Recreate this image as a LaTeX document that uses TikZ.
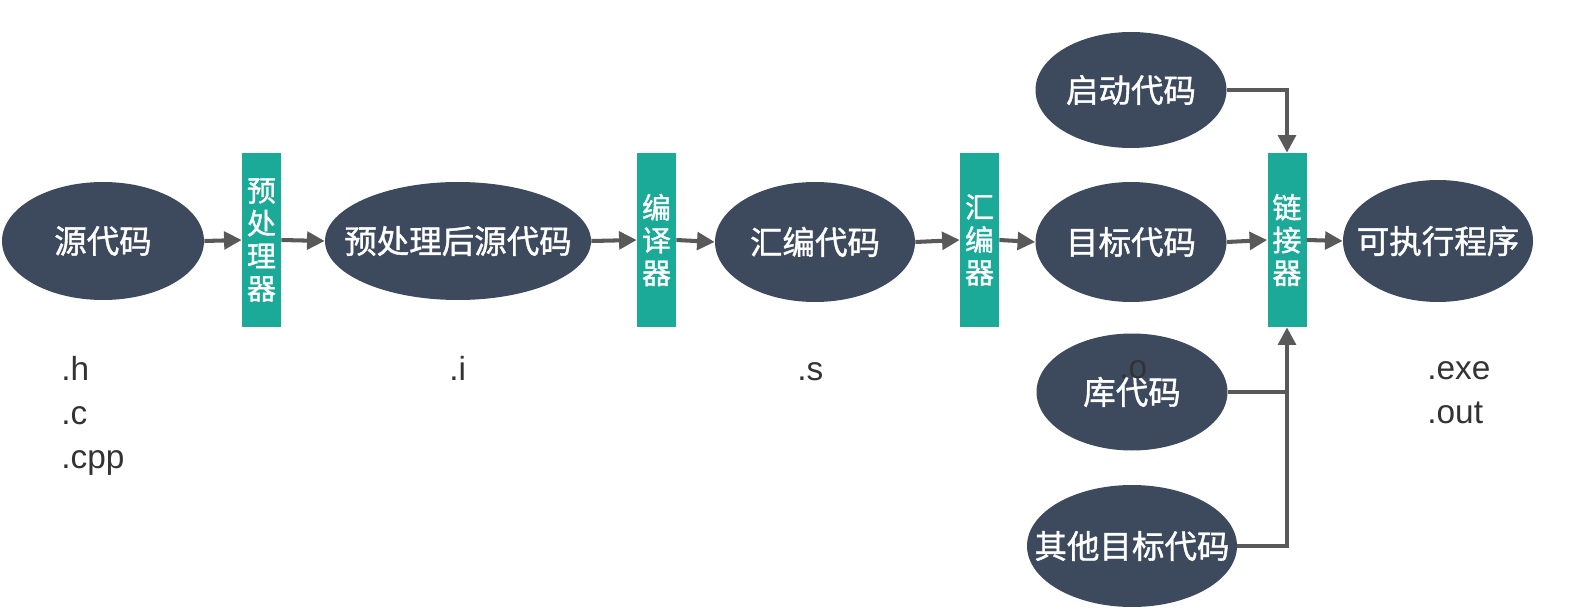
\documentclass[tikz,border=0pt]{standalone}
\usepackage{fontspec}
\setmainfont{Liberation Sans}
\newfontfamily\cjk[FakeBold=1.2]{Noto Sans CJK SC}
\usetikzlibrary{shapes.geometric,arrows.meta}
\definecolor{ellfill}{HTML}{3D4A5E}
\definecolor{boxfill}{HTML}{1CAA98}
\definecolor{arrowcol}{HTML}{595959}
\definecolor{labcol}{HTML}{333333}
\newcommand{\zt}[1]{\makebox[0pt]{#1}}
\tikzset{
  ell/.style={ellipse, fill=ellfill, draw=none, inner sep=0pt, text=white, font=\cjk\fontsize{18.5}{20}\selectfont},
  tool/.style={rectangle, fill=boxfill, draw=none, inner sep=0pt, minimum width=39*0.02cm, minimum height=174*0.02cm, text=white, align=center, font=\cjk\fontsize{16.5}{18.6}\selectfont},
  conn/.style={draw=arrowcol, line width=2.3pt, -{Triangle[length=10pt,width=10pt]}},
  plain/.style={draw=arrowcol, line width=2.3pt},
  lab/.style={text=labcol, align=left, anchor=base west, inner sep=0pt, font=\fontsize{19}{25}\selectfont}
}
\begin{document}
\begin{tikzpicture}[x=0.02cm,y=-0.02cm]
\useasboundingbox (0,0) rectangle (1569,611);
% ellipses
\node[ell, minimum width=202*0.02cm, minimum height=118*0.02cm] (src) at (103,241) {\zt{源代码}};
\node[ell, minimum width=266*0.02cm, minimum height=118*0.02cm] (pre) at (458,241) {\zt{预处理后源代码}};
\node[ell, minimum width=200*0.02cm, minimum height=120*0.02cm] (asm) at (815,242) {\zt{汇编代码}};
\node[ell, minimum width=191*0.02cm, minimum height=120*0.02cm] (obj) at (1131,242) {\zt{目标代码}};
\node[ell, minimum width=191*0.02cm, minimum height=116*0.02cm] (start) at (1131,90) {\zt{启动代码}};
\node[ell, minimum width=191*0.02cm, minimum height=117*0.02cm] (lib) at (1132,392) {\zt{库代码}};
\node[ell, minimum width=210*0.02cm, minimum height=122*0.02cm] (other) at (1132,546) {\zt{其他目标代码}};
\node[ell, minimum width=190*0.02cm, minimum height=122*0.02cm] (exe) at (1438,241) {\zt{可执行程序}};
% tools
\node[tool] (pp) at (261.5,240) {预\\处\\理\\器};
\node[tool] (cc) at (656.5,240) {编\\译\\器};
\node[tool] (as) at (979.5,240) {汇\\编\\器};
\node[tool] (ld) at (1287,240) {链\\接\\器};
% connectors
\draw[conn] (src.east) -- (pp.west);
\draw[conn] (pp.east) -- (pre.west);
\draw[conn] (pre.east) -- (cc.west);
\draw[conn] (cc.east) -- (asm.west);
\draw[conn] (asm.east) -- (as.west);
\draw[conn] (as.east) -- (obj.west);
\draw[conn] (obj.east) -- (ld.west);
\draw[conn] (ld.east) -- (exe.west);
\draw[conn] (start.east) -| (ld.north);
\coordinate (libj) at (lib.east -| ld.south);
\draw[plain] (lib.east) -- (libj);
\draw[conn] (other.east) -| (ld.south);
% labels (base anchor = baseline of last line)
\node[lab] (lh) at (61,468) {.h\\.c\\.cpp};
\node[lab] (li) at (449,380) {.i};
\node[lab] (ls) at (797,380) {.s};
\node[lab] (lo) at (1119,378) {.o};
\node[lab] (le) at (1427,423) {.exe\\.out};
\end{tikzpicture}
\end{document}
